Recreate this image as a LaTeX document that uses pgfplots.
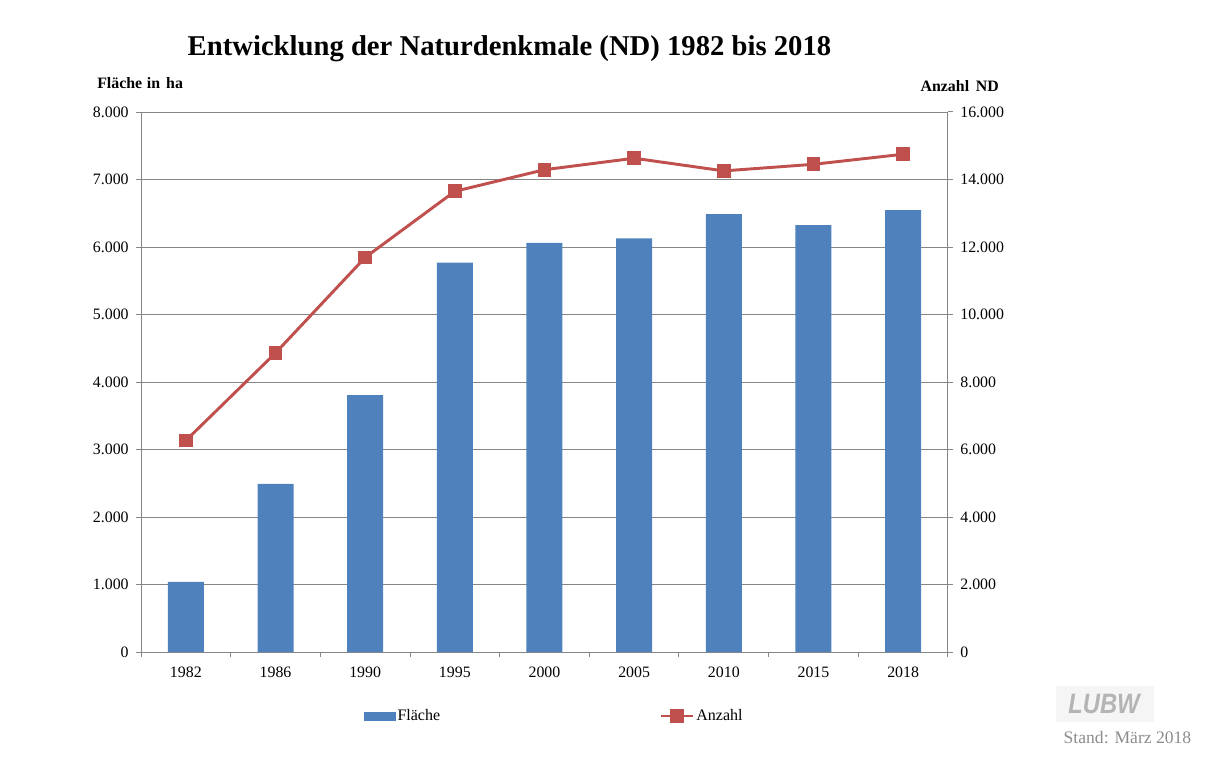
\documentclass[border=0pt]{standalone}
\usepackage{fontspec}
\setmainfont{Liberation Serif}
\setsansfont{Liberation Sans}
\usepackage{pgfplots}
\pgfplotsset{compat=1.18}
\definecolor{barblue}{HTML}{4F81BD}
\definecolor{linered}{HTML}{C0504D}
\definecolor{axgray}{HTML}{868686}
\definecolor{logogray}{HTML}{B4B4B4}
\definecolor{standgray}{HTML}{8C8C8C}

\pgfplotstableread{
x y
0 1040
1 2490
2 3805
3 5770
4 6060
5 6128
6 6488
7 6325
8 6548
}\flaeche

\pgfplotstableread{
x y
0 6265
1 8860
2 11690
3 13650
4 14290
5 14630
6 14255
7 14450
8 14748
}\anzahl

\begin{document}
\begin{tikzpicture}
\path[use as bounding box] (0,0) rectangle (906.75pt,568.5pt);
\pgfplotsset{
  common/.style={
    at={(105.75pt,79.5pt)}, anchor=south west,
    scale only axis, width=605.25pt, height=405pt,
    xmin=-0.5, xmax=8.5,
    tick align=outside,
    major tick length=3.75pt, minor tick length=3.75pt,
    tick style={axgray, line width=0.75pt},
    axis line style={axgray, line width=0.75pt},
    ticklabel style={font=\fontsize{11.9}{13}\selectfont},
    scaled y ticks=false,
    /pgf/number format/.cd, 1000 sep={.}, assume math mode=true,
  }
}
\begin{axis}[common,
  ymin=0, ymax=8000,
  axis y line*=left, axis x line*=bottom,
  ytick={0,1000,...,8000},
  yticklabel style={xshift=-2pt},
  xtick={0,...,8},
  xticklabels={1982,1986,1990,1995,2000,2005,2010,2015,2018},
  xticklabel style={yshift=-3.75pt},
  every major x tick/.append style={draw=none},
  minor xtick={-0.5,0.5,...,8.5},
  ymajorgrids,
  major grid style={axgray, line width=0.75pt},
]
\addplot[ybar, bar width=27pt, fill=barblue, draw=none] table[x=x,y=y] {\flaeche};
\end{axis}
\begin{axis}[common,
  ymin=0, ymax=16000,
  axis y line*=right, axis x line=none,
  ytick={0,2000,...,16000},
  yticklabel style={xshift=2pt},
  legend columns=2,
  legend style={at={(0.2763,-0.1185)}, anchor=west, draw=none, fill=none,
    inner sep=0pt, outer sep=0pt,
    font=\fontsize{12}{14}\selectfont,
    nodes={inner xsep=1.5pt, inner ysep=0pt},
    /tikz/every even column/.append style={column sep=163pt}},
  legend cell align=left,
]
\addlegendimage{legend image code/.code={\fill[barblue] (0pt,-3pt) rectangle (23.25pt,3pt);}}
\addlegendentry{Fläche}
\addplot[linered, line width=2.2pt, mark=square*, mark size=4.1pt,
  mark options={solid},
  legend image code/.code={\draw[linered, line width=2.2pt] (0pt,0pt) -- (24pt,0pt);
     \fill[linered] (8pt,-4pt) rectangle (16pt,4pt);}]
  table[x=x,y=y] {\anzahl};
\addlegendentry{Anzahl}
\end{axis}
\node[font=\bfseries\fontsize{21.5}{24}\selectfont] at (382.1pt,531.75pt) {Entwicklung der Naturdenkmale (ND) 1982 bis 2018};
\node[anchor=west, inner sep=0pt, font=\bfseries\fontsize{11.9}{13}\selectfont] at (72.75pt,506.25pt) {Fläche\hspace{0.3em}in\hspace{0.38em}ha};
\node[anchor=east, inner sep=0pt, font=\bfseries\fontsize{11.9}{13}\selectfont] at (749.25pt,504pt) {Anzahl\hspace{0.42em}ND};
\fill[black!4] (792pt,27pt) rectangle (865.5pt,54pt);
\node[logogray, font=\sffamily\bfseries\itshape\fontsize{21}{22}\selectfont, xscale=0.85] at (828pt,40.5pt) {LUBW};
\node[standgray, font=\fontsize{13.2}{15}\selectfont] at (845.6pt,15pt) {Stand: März 2018};
\end{tikzpicture}
\end{document}
